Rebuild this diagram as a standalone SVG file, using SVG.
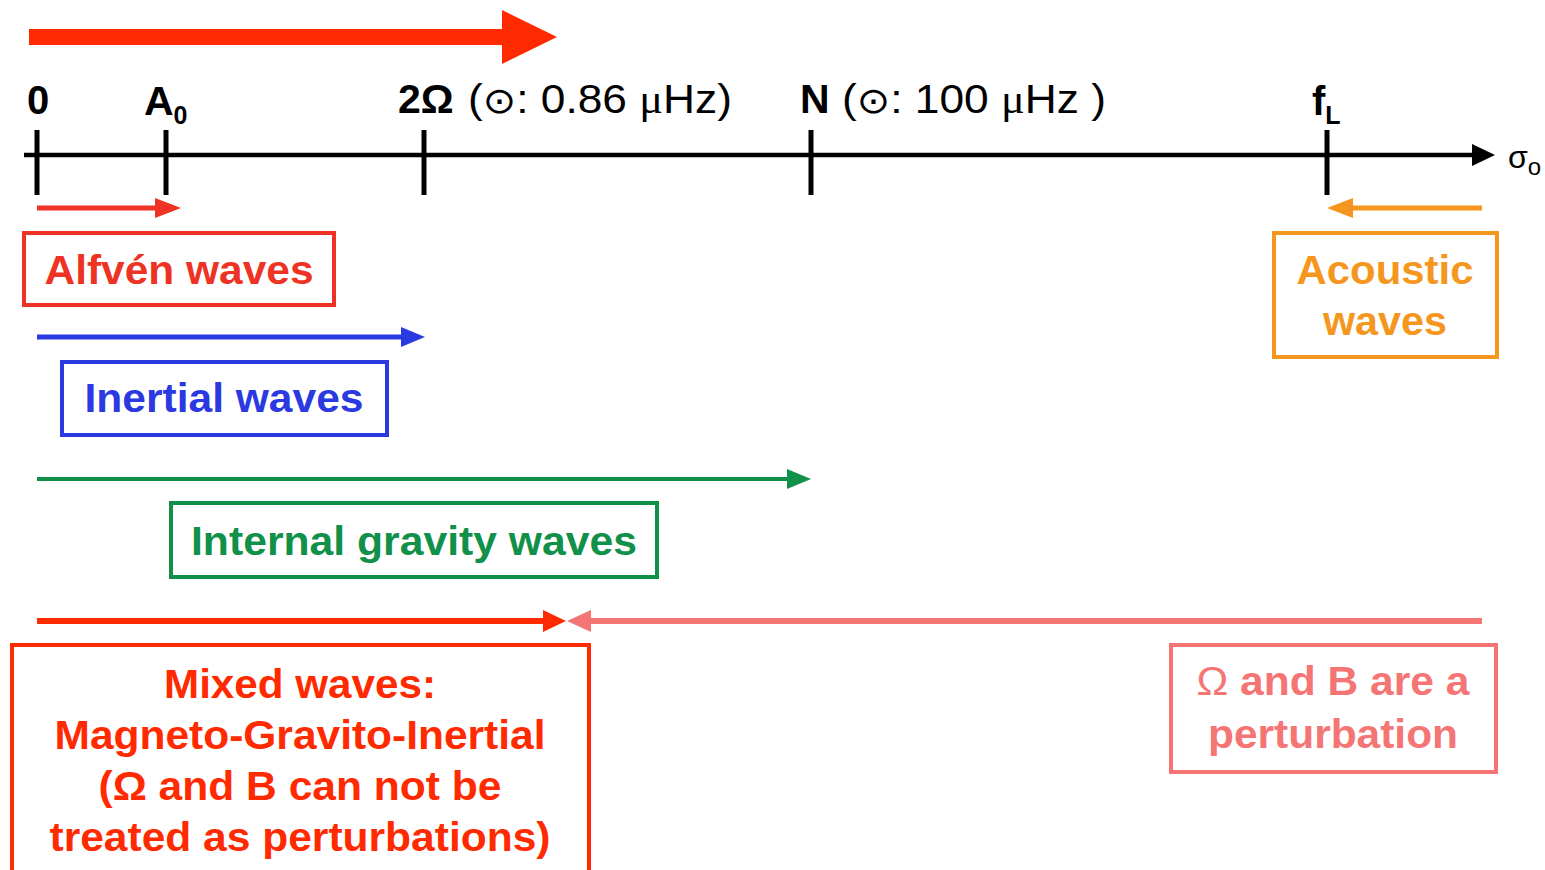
<svg xmlns="http://www.w3.org/2000/svg" width="1545" height="870" viewBox="0 0 1545 870">
<style>
.b{font-family:"Liberation Sans",Arial,sans-serif;font-weight:bold}
.r{font-family:"Liberation Sans",Arial,sans-serif}
.lbl{font-family:"Liberation Sans",Arial,sans-serif;font-weight:bold;font-size:40px;text-anchor:middle}
.box{fill:#fff;stroke-width:4}
.tick{stroke:#000;stroke-width:5}
</style>
<rect width="1545" height="870" fill="#fff"/>
<g id="connectors">
  <g id="top-arrow">
    <line x1="29" y1="37" x2="505" y2="37" stroke="#ff2a00" stroke-width="16"/>
    <polygon points="502,10 557,37 502,64" fill="#ff2a00"/>
  </g>
  <g id="axis">
    <line x1="24" y1="155" x2="1475" y2="155" stroke="#000" stroke-width="4.5"/>
    <polygon points="1472,144 1495,155 1472,166" fill="#000"/>
    <line class="tick" x1="37" y1="130" x2="37" y2="195"/>
    <line class="tick" x1="166" y1="130" x2="166" y2="195"/>
    <line class="tick" x1="424" y1="130" x2="424" y2="195"/>
    <line class="tick" x1="811" y1="130" x2="811" y2="195"/>
    <line class="tick" x1="1327" y1="130" x2="1327" y2="195"/>
  </g>
  <g id="arrow-alfven">
    <line x1="37" y1="208" x2="158" y2="208" stroke="#ee3324" stroke-width="5"/>
    <polygon points="155,198 181,208 155,218" fill="#ee3324"/>
  </g>
  <g id="arrow-acoustic">
    <line x1="1482" y1="208" x2="1350" y2="208" stroke="#f5971f" stroke-width="5"/>
    <polygon points="1353,198 1327,208 1353,218" fill="#f5971f"/>
  </g>
  <g id="arrow-inertial">
    <line x1="37" y1="337" x2="404" y2="337" stroke="#2b39e0" stroke-width="5"/>
    <polygon points="401,327 425,337 401,347" fill="#2b39e0"/>
  </g>
  <g id="arrow-gravity">
    <line x1="37" y1="479" x2="790" y2="479" stroke="#11904a" stroke-width="4"/>
    <polygon points="787,469 811,479 787,489" fill="#11904a"/>
  </g>
  <g id="arrow-mixed">
    <line x1="37" y1="621" x2="546" y2="621" stroke="#ff2a00" stroke-width="6"/>
    <polygon points="543,610 566,621 543,632" fill="#ff2a00"/>
  </g>
  <g id="arrow-perturbation">
    <line x1="1482" y1="621" x2="588" y2="621" stroke="#f57575" stroke-width="6"/>
    <polygon points="591,610 567,621 591,632" fill="#f57575"/>
  </g>
</g>
<g id="axis-labels">
  <text class="b" x="38" y="114" font-size="40" text-anchor="middle">0</text>
  <text class="b" x="144" y="115" font-size="41">A<tspan font-size="25" dy="9">0</tspan></text>
  <text class="b" x="398" y="113" font-size="41">2Ω</text>
  <text class="r" x="468" y="113" font-size="40" textLength="264" lengthAdjust="spacingAndGlyphs">(<tspan font-family="'DejaVu Sans',sans-serif" font-size="36">⊙</tspan>: 0.86 <tspan font-family="'Liberation Serif',serif">μ</tspan>Hz)</text>
  <text class="b" x="800" y="113" font-size="41">N</text>
  <text class="r" x="842" y="113" font-size="40" textLength="264" lengthAdjust="spacingAndGlyphs">(<tspan font-family="'DejaVu Sans',sans-serif" font-size="36">⊙</tspan>: 100 <tspan font-family="'Liberation Serif',serif">μ</tspan>Hz )</text>
  <text class="b" x="1312" y="115" font-size="40">f<tspan font-size="25" dy="9">L</tspan></text>
  <text class="r" x="1508" y="168" font-size="32">σ<tspan font-size="24" dy="7">o</tspan></text>
</g>
<g id="node-alfven">
  <rect class="box" x="24" y="233" width="310" height="72" stroke="#ee3324"/>
  <text class="lbl" x="179" y="284" fill="#ee3324" textLength="269" lengthAdjust="spacingAndGlyphs">Alfvén waves</text>
</g>
<g id="node-acoustic">
  <rect class="box" x="1274" y="233" width="223" height="124" stroke="#f5971f"/>
  <text class="lbl" x="1385" y="284" fill="#f5971f" textLength="177" lengthAdjust="spacingAndGlyphs">Acoustic</text>
  <text class="lbl" x="1385" y="335" fill="#f5971f" textLength="124" lengthAdjust="spacingAndGlyphs">waves</text>
</g>
<g id="node-inertial">
  <rect class="box" x="62" y="362" width="325" height="73" stroke="#2b39e0"/>
  <text class="lbl" x="224" y="412" fill="#2b39e0" textLength="279" lengthAdjust="spacingAndGlyphs">Inertial waves</text>
</g>
<g id="node-gravity">
  <rect class="box" x="171" y="503" width="486" height="74" stroke="#11904a"/>
  <text class="lbl" x="414" y="555" fill="#11904a" textLength="446" lengthAdjust="spacingAndGlyphs">Internal gravity waves</text>
</g>
<g id="node-mixed">
  <rect class="box" x="12" y="645" width="577" height="230" stroke="#ff2a00"/>
  <g class="lbl" fill="#ff2a00" font-size="42">
    <text x="300" y="698" textLength="272" lengthAdjust="spacingAndGlyphs">Mixed waves:</text>
    <text x="300" y="749" textLength="491" lengthAdjust="spacingAndGlyphs">Magneto-Gravito-Inertial</text>
    <text x="300" y="800" textLength="403" lengthAdjust="spacingAndGlyphs">(Ω and B can not be</text>
    <text x="300" y="851" textLength="501" lengthAdjust="spacingAndGlyphs">treated as perturbations)</text>
  </g>
</g>
<g id="node-perturbation">
  <rect class="box" x="1171" y="645" width="325" height="127" stroke="#f57575"/>
  <text class="lbl" x="1333" y="695" fill="#f57575" textLength="273" lengthAdjust="spacingAndGlyphs"><tspan font-weight="normal">Ω</tspan> and B are a</text>
  <text class="lbl" x="1333" y="748" fill="#f57575" textLength="250" lengthAdjust="spacingAndGlyphs">perturbation</text>
</g>
</svg>
